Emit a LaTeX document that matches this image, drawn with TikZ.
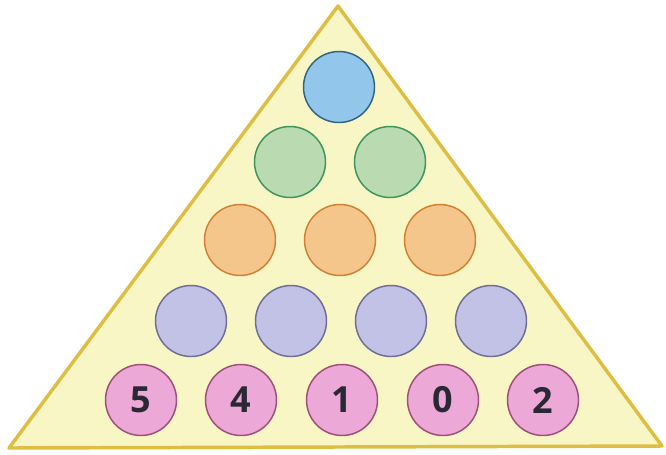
\documentclass[tikz,border=0pt]{standalone}
\usepackage{fontspec}
\setsansfont{Open Sans}
\usepackage{tikz}
\usetikzlibrary{positioning, calc}
\definecolor{PyrFill}{RGB}{248, 246, 196}
\definecolor{PyrEdge}{RGB}{222, 190, 66}
\definecolor{BallBlue}{RGB}{146, 198, 234}
\definecolor{BallBlueEdge}{RGB}{50, 100, 130}
\definecolor{BallGreen}{RGB}{186, 218, 178}
\definecolor{BallGreenEdge}{RGB}{60, 150, 90}
\definecolor{BallOrange}{RGB}{244, 198, 140}
\definecolor{BallOrangeEdge}{RGB}{210, 128, 50}
\definecolor{BallPurple}{RGB}{194, 194, 230}
\definecolor{BallPurpleEdge}{RGB}{110, 110, 150}
\definecolor{BallPink}{RGB}{236, 168, 214}
\definecolor{BallPinkEdge}{RGB}{160, 80, 120}
\definecolor{DigitInk}{RGB}{42, 40, 52}

\newlength{\pxu}
\setlength{\pxu}{0.75pt}
\tikzset{
  ball/.style={circle, minimum size=71\pxu, inner sep=0pt, line width=1.1pt},
  digit/.style={text=DigitInk, font=\sffamily\bfseries\fontsize{27}{30}\selectfont}
}

\begin{document}
\begin{tikzpicture}[x=0.75pt,y=-0.75pt]
  \path[use as bounding box] (0,0) rectangle (666,454);

  % Yellow pyramid
  \coordinate (apex) at (338,6);
  \coordinate (lcorner) at (9,448);
  \coordinate (rcorner) at (662,446);
  \draw[PyrEdge, fill=PyrFill, line width=2.6pt, line join=round] (apex) -- (lcorner) -- (rcorner) -- cycle;

  % Top ball
  \node[ball, fill=BallBlue, draw=BallBlueEdge] (blue1) at (339,87) {};

  % Green row
  \foreach \i/\xa in {1/290, 2/390}
    \node[ball, fill=BallGreen, draw=BallGreenEdge] (green\i) at (\xa,162) {};

  % Orange row
  \foreach \i/\xa in {1/240, 2/340, 3/440}
    \node[ball, fill=BallOrange, draw=BallOrangeEdge] (orange\i) at (\xa,240) {};

  % Purple row
  \foreach \i/\xa in {1/191, 2/291, 3/391, 4/491}
    \node[ball, fill=BallPurple, draw=BallPurpleEdge] (purple\i) at (\xa,321) {};

  % Pink row with digits
  \foreach \i/\xa/\val in {1/141/5, 2/241/4, 3/342/1, 4/443/0, 5/543/2}
    \node[ball, fill=BallPink, draw=BallPinkEdge, digit] (pink\i) at (\xa,400) {\val};
\end{tikzpicture}
\end{document}
